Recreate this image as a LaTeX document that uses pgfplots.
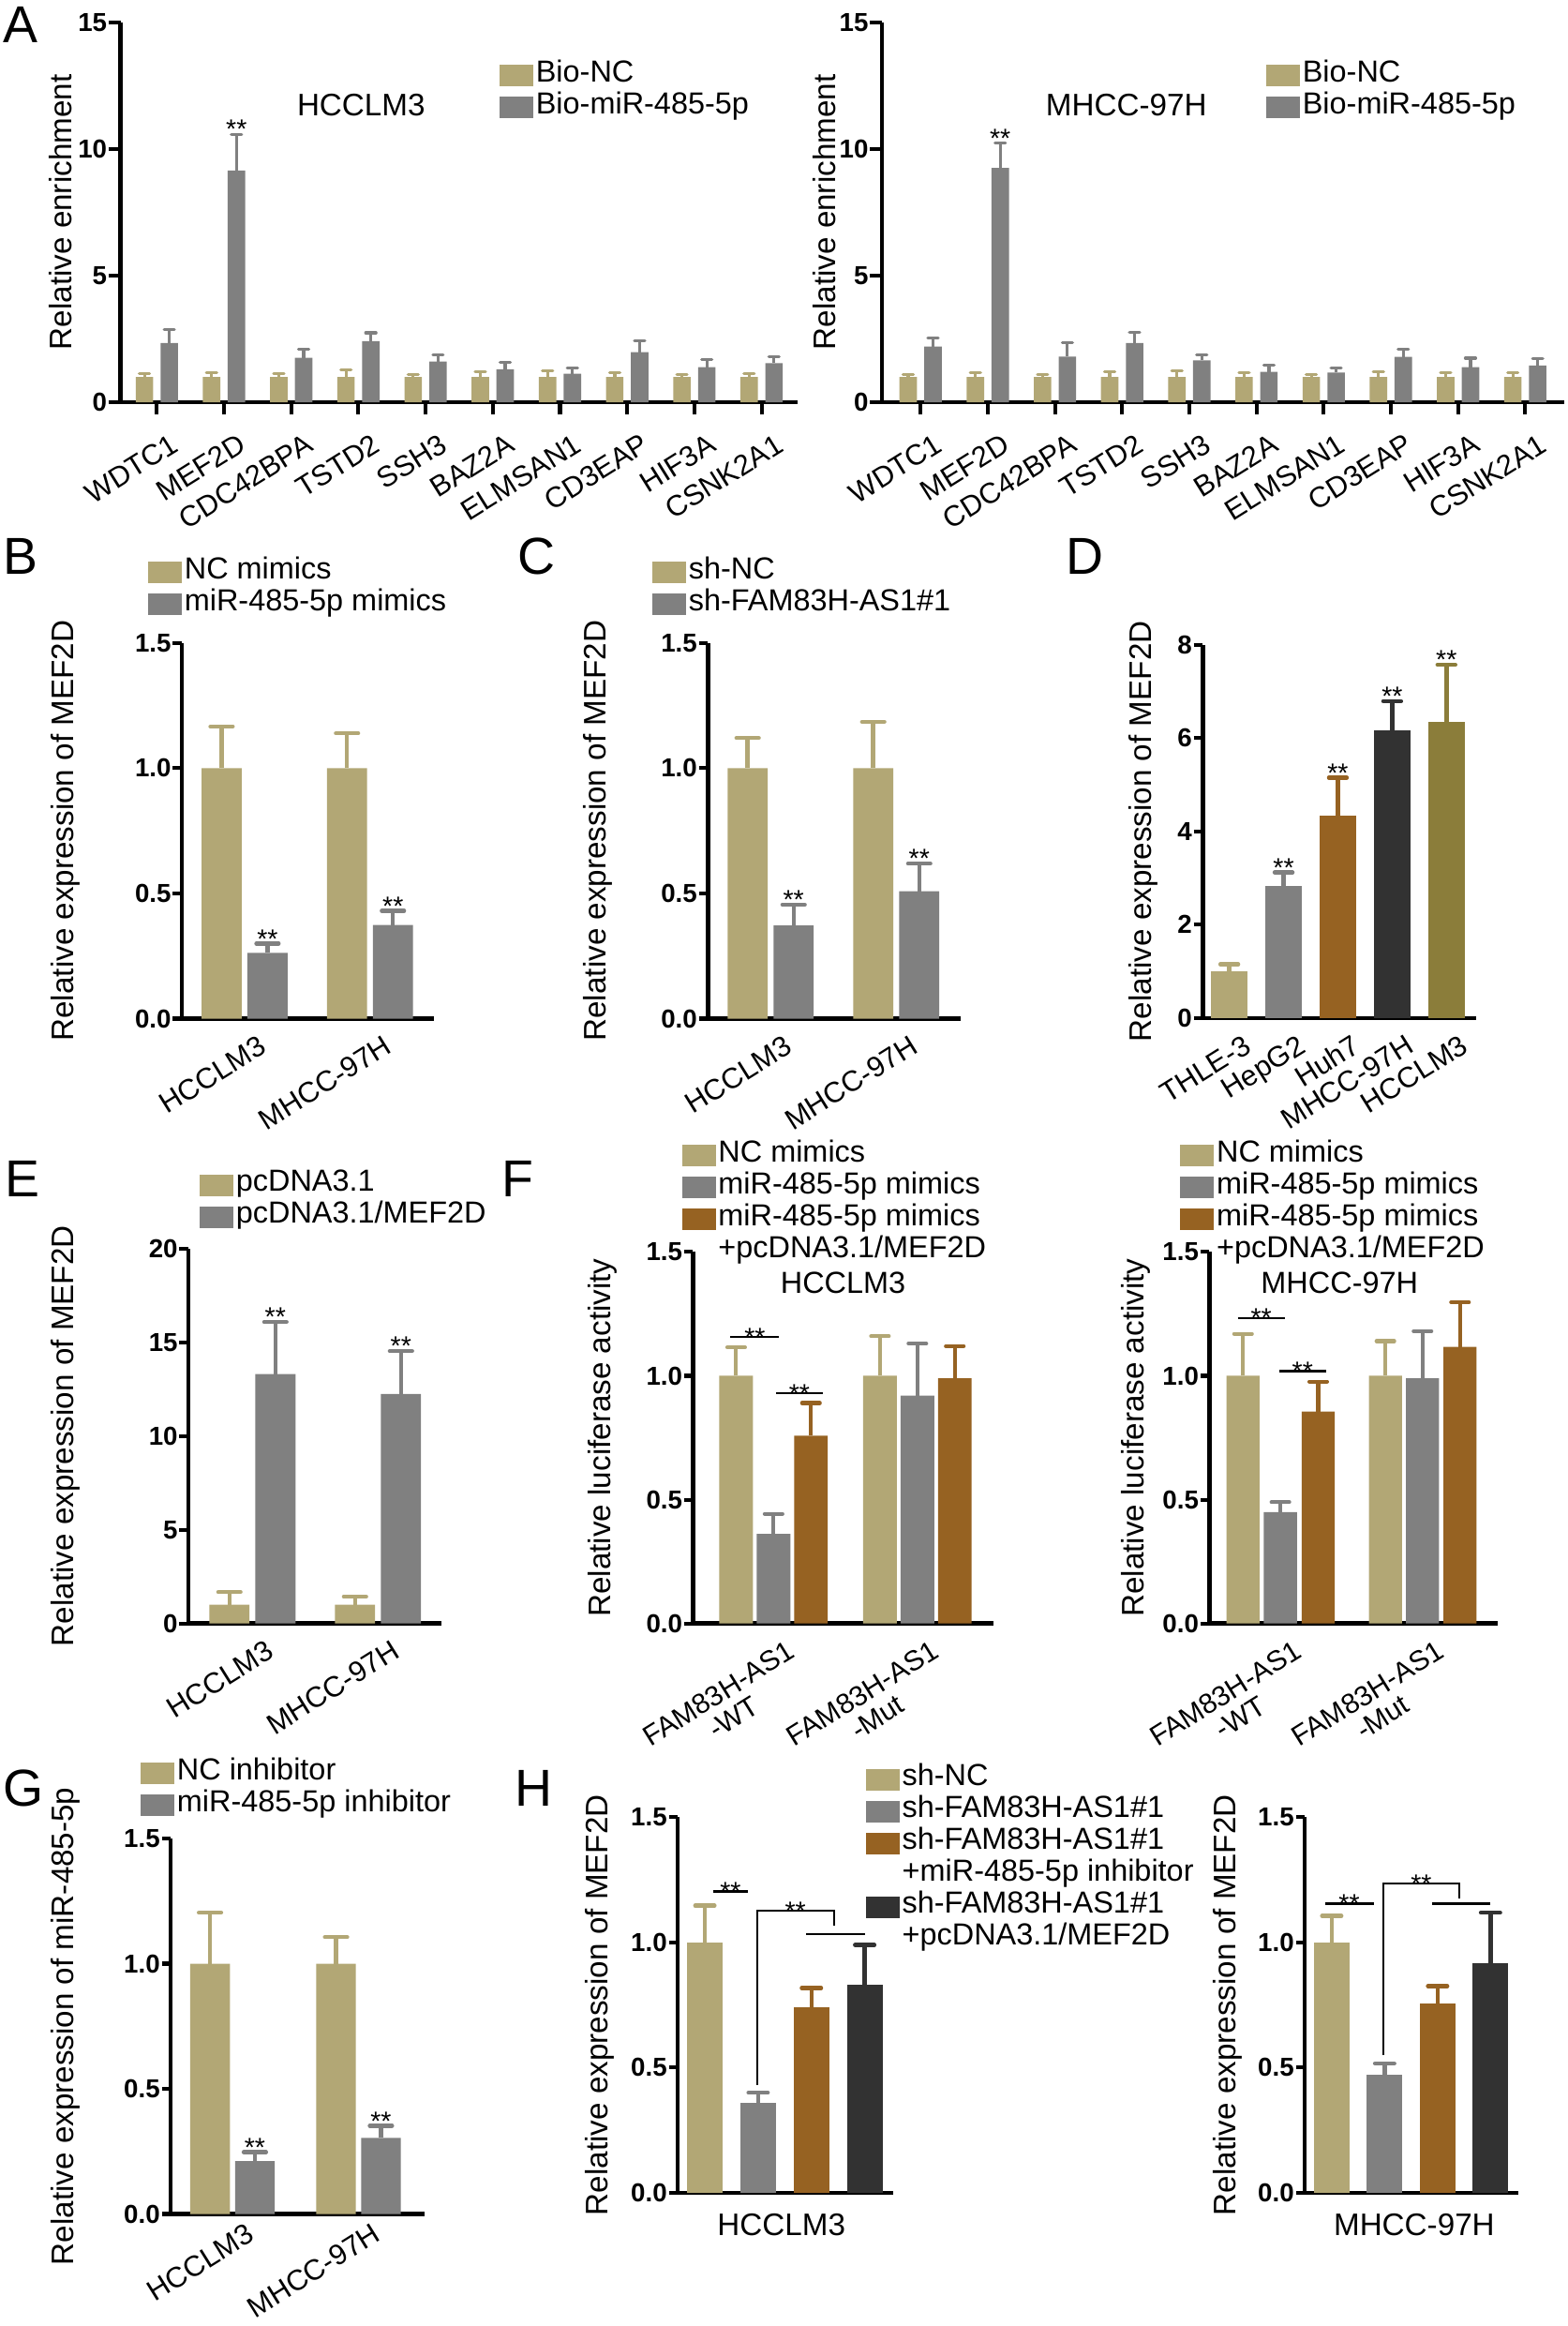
\documentclass[border=0pt]{standalone}
\usepackage{fontspec}
\setmainfont{Liberation Sans}
\usepackage{pgfplots}
\pgfplotsset{compat=1.18}

\definecolor{tanc}{RGB}{178,167,117}
\definecolor{grayc}{RGB}{128,128,128}
\definecolor{brownc}{RGB}{150,98,34}
\definecolor{darkc}{RGB}{50,50,50}
\definecolor{olivec}{RGB}{139,125,58}

\newcommand{\fs}[1]{\fontsize{#1}{#1}\selectfont}
\newcommand{\sig}[2]{\node[font=\fs{18}, anchor=base, yshift=-3pt, inner sep=0pt] at (axis cs:#1,#2) {**};}
\newcommand{\sigl}[2]{\node[font=\fs{18}, anchor=base, yshift=-6.5pt, inner sep=0pt] at (axis cs:#1,#2) {**};}

\pgfplotsset{
  base/.style={
    scale only axis, clip=false, anchor=south west,
    axis lines*=left,
    axis line style={line width=3pt},
    ymin=0,
    tick align=outside,
    major tick length=6pt,
    tick style={line width=2.6pt, black},
    xtick style={draw=none},
    yticklabel style={font=\bfseries\fs{17.5}, inner sep=1pt},
    xticklabel style={font=\fs{19.5}, xshift=9pt, yshift=-3pt, rotate=32, anchor=north east, inner sep=1pt},
    ylabel style={font=\fs{21}, anchor=center},
    legend cell align=left,
    legend style={draw=none, fill=none, anchor=north west, inner sep=0pt, outer sep=0pt,
      row sep=0pt, column sep=2pt, font=\fs{20.5},
      nodes={inner sep=0pt, outer sep=0pt, text height=15pt, text depth=6.5pt}},
  },
  sw/.style={legend image code/.code={\fill[#1] (0pt,-7pt) rectangle (22pt,7pt);}},
  mybar/.style n args={4}{ybar, bar width=#2, bar shift=0pt, fill=#1, draw=none, forget plot,
    /pgfplots/error bars/y dir=plus, /pgfplots/error bars/y explicit,
    /pgfplots/error bars/error bar style={line width=#4, color=#1},
    /pgfplots/error bars/error mark options={rotate=90, color=#1, line width=#4, mark size=#3, line cap=round}},
  sigline/.style={black, line width=1.4pt, forget plot, mark=none},
}

\begin{document}
\begin{tikzpicture}
\useasboundingbox (0,0) rectangle (1057pt,1568pt);

% panel letters
\node[font=\fs{35}, anchor=base west, inner sep=0pt] at (1.7pt,1539.2pt) {A};
\node[font=\fs{35}, anchor=base west, inner sep=0pt] at (1.7pt,1181pt) {B};
\node[font=\fs{35}, anchor=base west, inner sep=0pt] at (348.7pt,1181pt) {C};
\node[font=\fs{35}, anchor=base west, inner sep=0pt] at (718.8pt,1181pt) {D};
\node[font=\fs{35}, anchor=base west, inner sep=0pt] at (3pt,761pt) {E};
\node[font=\fs{35}, anchor=base west, inner sep=0pt] at (338.5pt,761pt) {F};
\node[font=\fs{35}, anchor=base west, inner sep=0pt] at (1.7pt,350.5pt) {G};
\node[font=\fs{35}, anchor=base west, inner sep=0pt] at (347pt,350.5pt) {H};

% ---------------- A left
\begin{axis}[base, at={(81.3pt,1296.8pt)}, width=456.7pt, height=256.2pt,
  xmin=-0.54, xmax=9.54, ymax=15, ytick={0,5,10,15}, yticklabels={0,5,10,15},
  xtick={0,1,2,3,4,5,6,7,8,9},
  xticklabels={WDTC1,MEF2D,CDC42BPA,TSTD2,SSH3,BAZ2A,ELMSAN1,CD3EAP,HIF3A,CSNK2A1},
  xtick style={draw=black, line width=2.6pt}, major tick length=8pt,
  xticklabel shift=8pt,
  ylabel={Relative enrichment}, ylabel style={at={(axis description cs:-0.0891,0.5)}},
  legend style={at={(axis description cs:0.5599,0.9014)}},
  legend entries={Bio-NC, Bio-miR-485-5p}]
\addlegendimage{sw=tanc}
\addlegendimage{sw=grayc}
\addplot[mybar={tanc}{0.26}{3.5pt}{2pt}] coordinates {
(-0.185,1) +- (0,0.12) (0.815,1) +- (0,0.17) (1.815,1) +- (0,0.13) (2.815,1) +- (0,0.27)
(3.815,1) +- (0,0.10) (4.815,1) +- (0,0.20) (5.815,1) +- (0,0.24) (6.815,1) +- (0,0.17)
(7.815,1) +- (0,0.10) (8.815,1) +- (0,0.13)};
\addplot[mybar={grayc}{0.26}{3.5pt}{2pt}] coordinates {
(0.185,2.34) +- (0,0.54) (1.185,9.15) +- (0,1.43) (2.185,1.76) +- (0,0.32) (3.185,2.41) +- (0,0.33)
(4.185,1.61) +- (0,0.25) (5.185,1.30) +- (0,0.27) (6.185,1.13) +- (0,0.23) (7.185,1.98) +- (0,0.46)
(8.185,1.39) +- (0,0.29) (9.185,1.54) +- (0,0.26)};
\sig{1.185}{10.58}
\node[font=\fs{21}] at (axis description cs:0.3552,0.7826) {HCCLM3};
\end{axis}

% ---------------- A right
\begin{axis}[base, at={(594.7pt,1296.8pt)}, width=460.3pt, height=256.2pt,
  xmin=-0.576, xmax=9.585, ymax=15, ytick={0,5,10,15}, yticklabels={0,5,10,15},
  xtick={0,1,2,3,4,5,6,7,8,9},
  xticklabels={WDTC1,MEF2D,CDC42BPA,TSTD2,SSH3,BAZ2A,ELMSAN1,CD3EAP,HIF3A,CSNK2A1},
  xtick style={draw=black, line width=2.6pt}, major tick length=8pt,
  xticklabel shift=8pt,
  ylabel={Relative enrichment}, ylabel style={at={(axis description cs:-0.0839,0.5)}},
  legend style={at={(axis description cs:0.5633,0.9014)}},
  legend entries={Bio-NC, Bio-miR-485-5p}]
\addlegendimage{sw=tanc}
\addlegendimage{sw=grayc}
\addplot[mybar={tanc}{0.26}{3.5pt}{2pt}] coordinates {
(-0.185,1) +- (0,0.10) (0.815,1) +- (0,0.17) (1.815,1) +- (0,0.10) (2.815,1) +- (0,0.21)
(3.815,1) +- (0,0.24) (4.815,1) +- (0,0.16) (5.815,1) +- (0,0.10) (6.815,1) +- (0,0.20)
(7.815,1) +- (0,0.17) (8.815,1) +- (0,0.17)};
\addplot[mybar={grayc}{0.26}{3.5pt}{2pt}] coordinates {
(0.185,2.20) +- (0,0.33) (1.185,9.25) +- (0,0.99) (2.185,1.80) +- (0,0.54) (3.185,2.34) +- (0,0.41)
(4.185,1.65) +- (0,0.21) (5.185,1.20) +- (0,0.26) (6.185,1.17) +- (0,0.19) (7.185,1.79) +- (0,0.30)
(8.185,1.39) +- (0,0.35) (9.185,1.45) +- (0,0.28)};
\sig{1.185}{10.24}
\node[font=\fs{21}] at (axis description cs:0.358,0.7826) {MHCC-97H};
\end{axis}

% ---------------- B
\begin{axis}[base, at={(122.6pt,881.3pt)}, width=170.2pt, height=253.3pt,
  xmin=-0.5, xmax=1.512, ymax=1.5, ytick={0,0.5,1,1.5}, yticklabels={0.0,0.5,1.0,1.5},
  xtick={0,1}, xticklabels={HCCLM3,MHCC-97H},
  ylabel={Relative expression of MEF2D}, ylabel style={at={(axis description cs:-0.4618,0.5)}},
  legend style={at={(axis description cs:-0.1328,1.2296)}},
  legend entries={NC mimics, miR-485-5p mimics}]
\addlegendimage{sw=tanc}
\addlegendimage{sw=grayc}
\addplot[mybar={tanc}{0.32}{7.5pt}{2.8pt}] coordinates {(-0.183,1.0) +- (0,0.166) (0.817,1.0) +- (0,0.139)};
\addplot[mybar={grayc}{0.32}{7.5pt}{2.8pt}] coordinates {(0.183,0.263) +- (0,0.037) (1.183,0.374) +- (0,0.056)};
\sig{0.183}{0.30}
\sig{1.183}{0.43}
\end{axis}

% ---------------- C
\begin{axis}[base, at={(477.3pt,881.3pt)}, width=170.4pt, height=253.3pt,
  xmin=-0.5, xmax=1.512, ymax=1.5, ytick={0,0.5,1,1.5}, yticklabels={0.0,0.5,1.0,1.5},
  xtick={0,1}, xticklabels={HCCLM3,MHCC-97H},
  ylabel={Relative expression of MEF2D}, ylabel style={at={(axis description cs:-0.4366,0.5)}},
  legend style={at={(axis description cs:-0.2189,1.2296)}},
  legend entries={sh-NC, sh-FAM83H-AS1\#1}]
\addlegendimage{sw=tanc}
\addlegendimage{sw=grayc}
\addplot[mybar={tanc}{0.32}{7.5pt}{2.8pt}] coordinates {(-0.183,1.0) +- (0,0.12) (0.817,1.0) +- (0,0.185)};
\addplot[mybar={grayc}{0.32}{7.5pt}{2.8pt}] coordinates {(0.183,0.372) +- (0,0.083) (1.183,0.509) +- (0,0.11)};
\sig{0.183}{0.455}
\sig{1.183}{0.62}
\end{axis}

% ---------------- D
\begin{axis}[base, at={(811pt,881.7pt)}, width=184.5pt, height=251.7pt,
  xmin=-0.49, xmax=4.55, ymax=8, ytick={0,2,4,6,8}, yticklabels={0,2,4,6,8},
  xtick={0,1,2,3,4}, xticklabels={THLE-3,HepG2,Huh7,MHCC-97H,HCCLM3},
  ylabel={Relative expression of MEF2D}, ylabel style={at={(axis description cs:-0.2179,0.5)}}]
\addplot[mybar={tanc}{0.667}{6pt}{2.8pt}] coordinates {(0,1.0) +- (0,0.15)};
\addplot[mybar={grayc}{0.667}{6pt}{2.8pt}] coordinates {(1,2.83) +- (0,0.29)};
\addplot[mybar={brownc}{0.667}{6pt}{2.8pt}] coordinates {(2,4.34) +- (0,0.81)};
\addplot[mybar={darkc}{0.667}{6pt}{2.8pt}] coordinates {(3,6.17) +- (0,0.62)};
\addplot[mybar={olivec}{0.667}{6pt}{2.8pt}] coordinates {(4,6.35) +- (0,1.22)};
\sig{1}{3.12}
\sig{2}{5.15}
\sig{3}{6.79}
\sig{4}{7.57}
\end{axis}

% ---------------- E
\begin{axis}[base, at={(127pt,473.6pt)}, width=170.9pt, height=252.8pt,
  xmin=-0.51, xmax=1.508, ymax=20, ytick={0,5,10,15,20}, yticklabels={0,5,10,15,20},
  xtick={0,1}, xticklabels={HCCLM3,MHCC-97H},
  ylabel={Relative expression of MEF2D}, ylabel style={at={(axis description cs:-0.4857,0.5)}},
  legend style={at={(axis description cs:0.0456,1.2111)}},
  legend entries={pcDNA3.1, pcDNA3.1/MEF2D}]
\addlegendimage{sw=tanc}
\addlegendimage{sw=grayc}
\addplot[mybar={tanc}{0.32}{7.5pt}{2.8pt}] coordinates {(-0.183,1.0) +- (0,0.67) (0.817,1.0) +- (0,0.43)};
\addplot[mybar={grayc}{0.32}{7.5pt}{2.8pt}] coordinates {(0.183,13.3) +- (0,2.78) (1.183,12.24) +- (0,2.29)};
\sig{0.183}{16.08}
\sig{1.183}{14.53}
\end{axis}

% ---------------- F left
\begin{axis}[base, at={(467.3pt,473.6pt)}, width=202.9pt, height=250.4pt,
  xmin=-0.56, xmax=1.532, ymax=1.5, ytick={0,0.5,1,1.5}, yticklabels={0.0,0.5,1.0,1.5},
  xtick={0,1}, xticklabels={{FAM83H-AS1\\-WT},{FAM83H-AS1\\-Mut}},
  xticklabel style={align=center, font=\fs{19}},
  ylabel={Relative luciferase activity}, ylabel style={at={(axis description cs:-0.3006,0.5)}},
  legend style={at={(axis description cs:-0.036,1.303)}},
  legend entries={NC mimics, miR-485-5p mimics, miR-485-5p mimics, +pcDNA3.1/MEF2D}]
\addlegendimage{sw=tanc}
\addlegendimage{sw=grayc}
\addlegendimage{sw=brownc}
\addlegendimage{empty legend}
\addplot[mybar={tanc}{0.234}{6pt}{2.6pt}] coordinates {(-0.26,1.0) +- (0,0.115) (0.74,1.0) +- (0,0.16)};
\addplot[mybar={grayc}{0.234}{6pt}{2.6pt}] coordinates {(0,0.362) +- (0,0.081) (1,0.92) +- (0,0.21)};
\addplot[mybar={brownc}{0.234}{6pt}{2.6pt}] coordinates {(0.26,0.758) +- (0,0.132) (1.26,0.99) +- (0,0.13)};
\addplot[sigline] coordinates {(-0.30,1.157) (0.04,1.157)};
\addplot[sigline] coordinates {(0.02,0.93) (0.34,0.93)};
\sigl{-0.13}{1.157}
\sigl{0.18}{0.93}
\node[font=\fs{20.5}] at (axis description cs:0.4988,0.917) {HCCLM3};
\end{axis}

% ---------------- F right
\begin{axis}[base, at={(815.5pt,473.6pt)}, width=194.5pt, height=250.4pt,
  xmin=-0.5, xmax=1.53, ymax=1.5, ytick={0,0.5,1,1.5}, yticklabels={0.0,0.5,1.0,1.5},
  xtick={0,1}, xticklabels={{FAM83H-AS1\\-WT},{FAM83H-AS1\\-Mut}},
  xticklabel style={align=center, font=\fs{19}},
  ylabel={Relative luciferase activity}, ylabel style={at={(axis description cs:-0.256,0.5)}},
  legend style={at={(axis description cs:-0.1003,1.303)}},
  legend entries={NC mimics, miR-485-5p mimics, miR-485-5p mimics, +pcDNA3.1/MEF2D}]
\addlegendimage{sw=tanc}
\addlegendimage{sw=grayc}
\addlegendimage{sw=brownc}
\addlegendimage{empty legend}
\addplot[mybar={tanc}{0.233}{6pt}{2.6pt}] coordinates {(-0.263,1.0) +- (0,0.17) (0.739,1.0) +- (0,0.14)};
\addplot[mybar={grayc}{0.233}{6pt}{2.6pt}] coordinates {(0,0.45) +- (0,0.04) (1,0.99) +- (0,0.19)};
\addplot[mybar={brownc}{0.233}{6pt}{2.6pt}] coordinates {(0.266,0.856) +- (0,0.121) (1.264,1.117) +- (0,0.18)};
\addplot[sigline] coordinates {(-0.30,1.234) (0.033,1.234)};
\addplot[sigline] coordinates {(-0.008,1.019) (0.32,1.019)};
\sigl{-0.135}{1.234}
\sigl{0.156}{1.019}
\node[font=\fs{20.5}] at (axis description cs:0.4514,0.917) {MHCC-97H};
\end{axis}

% ---------------- G
\begin{axis}[base, at={(115.1pt,75.5pt)}, width=171pt, height=253.1pt,
  xmin=-0.49, xmax=1.522, ymax=1.5, ytick={0,0.5,1,1.5}, yticklabels={0.0,0.5,1.0,1.5},
  xtick={0,1}, xticklabels={HCCLM3,MHCC-97H},
  xticklabel shift=-5pt,
  ylabel={Relative expression of miR-485-5p}, ylabel style={at={(axis description cs:-0.4158,0.5)}},
  legend style={at={(axis description cs:-0.1175,1.2159)}},
  legend entries={NC inhibitor, miR-485-5p inhibitor}]
\addlegendimage{sw=tanc}
\addlegendimage{sw=grayc}
\addplot[mybar={tanc}{0.315}{7.5pt}{2.8pt}] coordinates {(-0.178,1.0) +- (0,0.204) (0.822,1.0) +- (0,0.106)};
\addplot[mybar={grayc}{0.315}{7.5pt}{2.8pt}] coordinates {(0.178,0.211) +- (0,0.036) (1.178,0.304) +- (0,0.049)};
\sig{0.178}{0.247}
\sig{1.178}{0.353}
\end{axis}

% ---------------- H left
\begin{axis}[base, at={(457pt,89.8pt)}, width=145.1pt, height=253.1pt,
  xmin=-0.51, xmax=3.53, ymax=1.5, ytick={0,0.5,1,1.5}, yticklabels={0.0,0.5,1.0,1.5},
  xtick=\empty,
  xlabel={HCCLM3}, xlabel style={at={(axis description cs:0.482,-0.086)}, anchor=center, font=\fs{21}},
  ylabel={Relative expression of MEF2D}, ylabel style={at={(axis description cs:-0.3611,0.5)}},
  legend style={at={(axis description cs:0.8753,1.1432)}},
  legend entries={sh-NC, sh-FAM83H-AS1\#1, sh-FAM83H-AS1\#1, +miR-485-5p inhibitor, sh-FAM83H-AS1\#1, +pcDNA3.1/MEF2D}]
\addlegendimage{sw=tanc}
\addlegendimage{sw=grayc}
\addlegendimage{sw=brownc}
\addlegendimage{empty legend}
\addlegendimage{sw=darkc}
\addlegendimage{empty legend}
\addplot[mybar={tanc}{0.67}{6.5pt}{2.8pt}] coordinates {(0,1.0) +- (0,0.147)};
\addplot[mybar={grayc}{0.67}{6.5pt}{2.8pt}] coordinates {(1,0.358) +- (0,0.042)};
\addplot[mybar={brownc}{0.67}{6.5pt}{2.8pt}] coordinates {(2,0.74) +- (0,0.078)};
\addplot[mybar={darkc}{0.67}{6.5pt}{2.8pt}] coordinates {(3,0.833) +- (0,0.157)};
\addplot[sigline] coordinates {(0.15,1.204) (0.81,1.204)};
\addplot[sigline] coordinates {(0.98,0.43) (0.98,1.126) (2.42,1.126) (2.42,1.066)};
\addplot[sigline] coordinates {(1.9,1.033) (3.0,1.033)};
\sigl{0.48}{1.204}
\sigl{1.7}{1.126}
\end{axis}

% ---------------- H right
\begin{axis}[base, at={(879.8pt,89.8pt)}, width=144.2pt, height=253.1pt,
  xmin=-0.51, xmax=3.53, ymax=1.5, ytick={0,0.5,1,1.5}, yticklabels={0.0,0.5,1.0,1.5},
  xtick=\empty,
  xlabel={MHCC-97H}, xlabel style={at={(axis description cs:0.512,-0.086)}, anchor=center, font=\fs{21}},
  ylabel={Relative expression of MEF2D}, ylabel style={at={(axis description cs:-0.3606,0.5)}}]
\addplot[mybar={tanc}{0.67}{6.5pt}{2.8pt}] coordinates {(0,1.0) +- (0,0.106)};
\addplot[mybar={grayc}{0.67}{6.5pt}{2.8pt}] coordinates {(1,0.472) +- (0,0.045)};
\addplot[mybar={brownc}{0.67}{6.5pt}{2.8pt}] coordinates {(2,0.756) +- (0,0.07)};
\addplot[mybar={darkc}{0.67}{6.5pt}{2.8pt}] coordinates {(3,0.919) +- (0,0.2)};
\addplot[sigline] coordinates {(-0.13,1.155) (0.79,1.155)};
\addplot[sigline] coordinates {(0.97,0.55) (0.97,1.236) (2.41,1.236) (2.41,1.175)};
\addplot[sigline] coordinates {(1.89,1.155) (2.99,1.155)};
\sigl{0.33}{1.155}
\sigl{1.69}{1.236}
\end{axis}

\end{tikzpicture}
\end{document}
